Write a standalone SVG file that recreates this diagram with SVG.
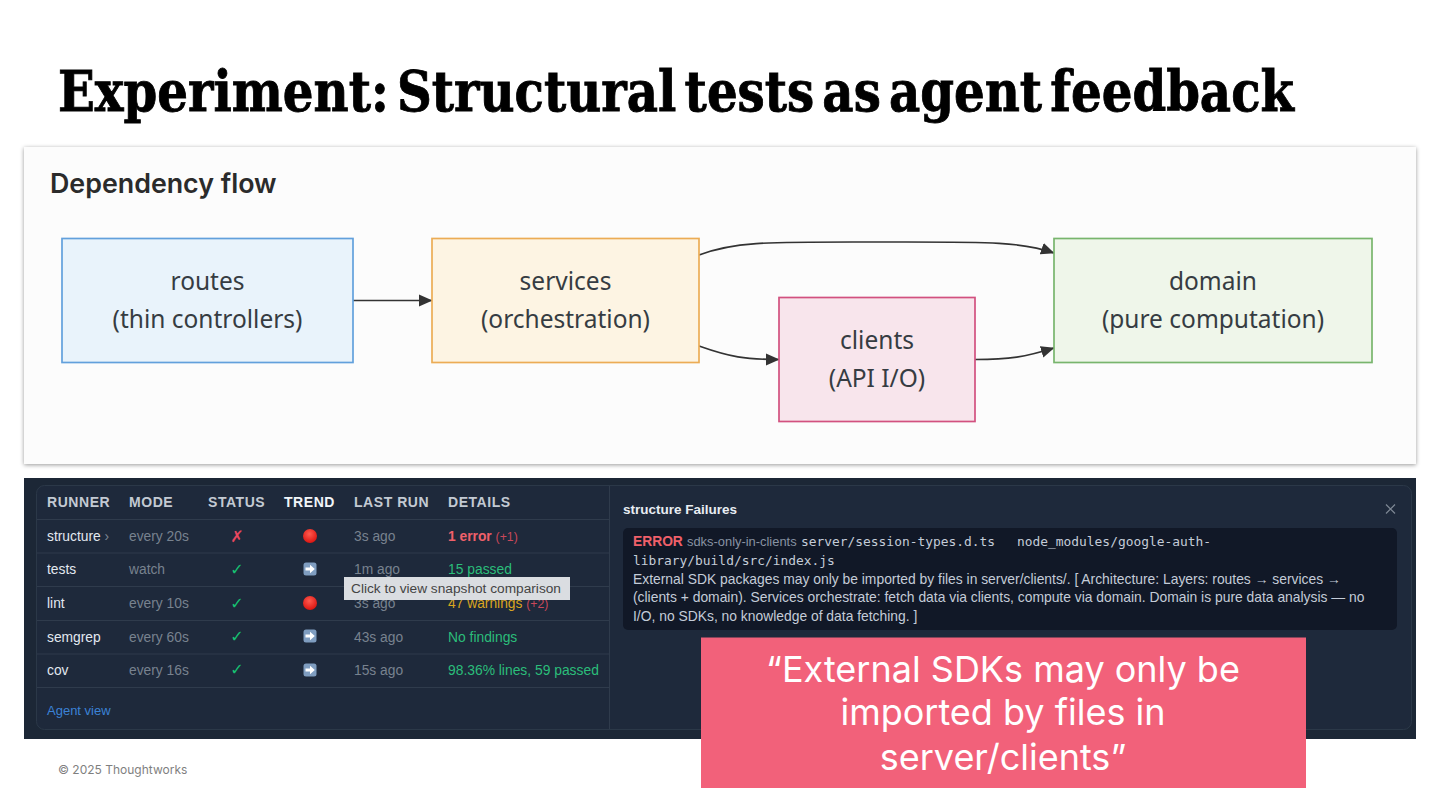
<svg xmlns="http://www.w3.org/2000/svg" width="1440" height="810" viewBox="0 0 1440 810">
<style>
text{font-family:"Liberation Sans",Arial,sans-serif}
.n{fill:#363c42;font-family:"Noto Sans",sans-serif;font-size:24.5px;text-anchor:middle}
.box{stroke-width:1.700}
.edge{fill:none;stroke:#333;stroke-width:1.700;marker-end:url(#arr)}
.h{font-size:14px;font-weight:700;fill:#c3cad3;letter-spacing:.55px}
.r{font-size:13.8px;fill:#e2e8f0}
.m{font-size:13.8px;fill:#78828f}
.g{font-size:13.85px;fill:#2bbd7a}
.row{stroke:#2f3b4c;stroke-width:1}
.ck{font-size:16px;font-weight:700;fill:#16c172;text-anchor:middle;font-family:"DejaVu Sans",sans-serif}
.err{font-size:13.87px;fill:#c4ccd8}
.mono{font-size:12.9px;fill:#c4ccd8;font-family:"DejaVu Sans Mono",monospace}
.q{font-family:Inter,sans-serif;font-size:36px;fill:#fff;text-anchor:middle}
</style>
<defs>
<marker id="arr" viewBox="0 0 14 14" refX="13" refY="7" markerWidth="14" markerHeight="14" markerUnits="userSpaceOnUse" orient="auto"><path d="M0 1L13.500 7L0 13z" fill="#333"/></marker>
<filter id="sh" x="-2%" y="-3%" width="104%" height="106%"><feDropShadow dx="0" dy="1" stdDeviation="2" flood-color="#000" flood-opacity=".4"/></filter>
<g id="tr"><rect x="-6.500" y="-6.500" width="13" height="13" rx="2.500" fill="#7f9dc0"/><path d="M-4.500 -1.500h4.500v-2.800l4.800 4.300-4.800 4.300v-2.800h-4.500z" fill="#fff"/></g>
<radialGradient id="red" cx=".45" cy=".35" r=".7"><stop offset="0" stop-color="#ff5a4f"/><stop offset="1" stop-color="#d8100c"/></radialGradient>
</defs>
<rect width="1440" height="810" fill="#fff"/>
<text x="58" y="111" font-size="56" font-weight="700" fill="#000" stroke="#000" stroke-width=".8" word-spacing="-9" textLength="1236" lengthAdjust="spacingAndGlyphs" style="font-family:'DejaVu Serif Condensed','DejaVu Serif',serif">Experiment: Structural tests as agent feedback</text>

<g id="flow-panel">
<rect x="24" y="147" width="1392" height="317" fill="#fcfcfc" filter="url(#sh)"/>
<text x="50" y="193" font-size="26.800" font-weight="600" fill="#2b2b2b" style="font-family:Inter,sans-serif">Dependency flow</text>
</g>
<g id="connectors">
<path class="edge" d="M699 255C735 241 770 242 877 242C985 242 1020 241 1054 253"/>
<path class="edge" d="M353 300.500H432"/>
<path class="edge" d="M699 346C730 357 745 359.500 779 359.500"/>
<path class="edge" d="M975 359.500C1010 359.500 1025 357 1054 348"/>
</g>
<g id="routes"><rect class="box" x="62" y="238.500" width="291" height="124" fill="#e9f3fb" stroke="#62a0dc"/><text class="n" x="207.500" y="290">routes</text><text class="n" x="207.500" y="328">(thin controllers)</text></g>
<g id="services"><rect class="box" x="432" y="238.500" width="267" height="124" fill="#fdf4e3" stroke="#ecac55"/><text class="n" x="565.500" y="290">services</text><text class="n" x="565.500" y="328">(orchestration)</text></g>
<g id="clients"><rect class="box" x="779" y="297.500" width="196" height="124" fill="#f8e5ec" stroke="#d2517f"/><text class="n" x="877" y="349">clients</text><text class="n" x="877" y="387">(API I/O)</text></g>
<g id="domain"><rect class="box" x="1054" y="238.500" width="318" height="124" fill="#eff6ea" stroke="#78b56d"/><text class="n" x="1213" y="290">domain</text><text class="n" x="1213" y="328">(pure computation)</text></g>

<g id="dashboard">
<rect x="24" y="478" width="1392" height="261" fill="#1c2736"/>
<rect x="36.500" y="485.500" width="1375" height="244" rx="8" fill="#1e293b" stroke="#2b3848"/>
<path class="row" d="M609.500 486V729M37 519.500H609M37 553H609M37 586.500H609M37 620.500H609M37 654H609M37 687.500H609"/>
<text class="h" x="47" y="507">RUNNER</text><text class="h" x="129" y="507">MODE</text><text class="h" x="208" y="507">STATUS</text><text class="h" x="284" y="507" style="fill:#f1f5f9">TREND</text><text class="h" x="354" y="507">LAST RUN</text><text class="h" x="448" y="507">DETAILS</text>

<text class="r" x="47" y="541">structure <tspan fill="#7d8794">›</tspan></text><text class="m" x="129" y="541">every 20s</text><text class="ck" x="237" y="542" style="fill:#e8475f">✗</text><circle cx="310" cy="536" r="7" fill="url(#red)"/><text class="m" x="354" y="541">3s ago</text><text x="448" y="541" font-size="13.800" font-weight="700" fill="#f0606a">1 error <tspan font-weight="400" font-size="12.300" fill="#c9485a">(+1)</tspan></text>
<text class="r" x="47" y="574">tests</text><text class="m" x="129" y="574">watch</text><text class="ck" x="237" y="575">✓</text><use href="#tr" x="310" y="569"/><text class="m" x="354" y="574">1m ago</text><text class="g" x="448" y="574">15 passed</text>
<text class="r" x="47" y="608">lint</text><text class="m" x="129" y="608">every 10s</text><text class="ck" x="237" y="609">✓</text><circle cx="310" cy="603" r="7" fill="url(#red)"/><text class="m" x="354" y="608">3s ago</text><text x="448" y="608" font-size="13.800" fill="#d9a520">47 warnings <tspan font-size="12.300" fill="#c9485a">(+2)</tspan></text>
<text class="r" x="47" y="642">semgrep</text><text class="m" x="129" y="642">every 60s</text><text class="ck" x="237" y="642">✓</text><use href="#tr" x="310" y="636"/><text class="m" x="354" y="642">43s ago</text><text class="g" x="448" y="642">No findings</text>
<text class="r" x="47" y="675">cov</text><text class="m" x="129" y="675">every 16s</text><text class="ck" x="237" y="675">✓</text><use href="#tr" x="310" y="670"/><text class="m" x="354" y="675">15s ago</text><text class="g" x="448" y="675">98.36% lines, 59 passed</text>
<text x="47" y="715" font-size="13" fill="#3b82d6">Agent view</text>
<rect x="344" y="577" width="226" height="23" fill="#dadde1"/><text x="351" y="593" font-size="13.700" fill="#444">Click to view snapshot comparison</text>

<text x="623" y="514" font-size="13.500" font-weight="700" fill="#e8edf3">structure Failures</text>
<path d="M1386 504.500l9 9m0-9l-9 9" stroke="#7d8794" stroke-width="1.200" fill="none"/>
<rect x="623" y="528" width="774" height="102" rx="5" fill="#111827"/>
<text x="633" y="546" font-size="13.800" font-weight="700" fill="#f0606a">ERROR</text>
<text x="687" y="546" font-size="12.900" fill="#8792a2">sdks-only-in-clients</text>
<text class="mono" x="801" y="546">server/session-types.d.ts</text>
<text class="mono" x="1017" y="546">node_modules/google-auth-</text>
<text class="mono" x="633" y="565">library/build/src/index.js</text>
<text class="err" x="633" y="584">External SDK packages may only be imported by files in server/clients/. [ Architecture: Layers: routes → services →</text>
<text class="err" x="633" y="602">(clients + domain). Services orchestrate: fetch data via clients, compute via domain. Domain is pure data analysis — no</text>
<text class="err" x="633" y="621">I/O, no SDKs, no knowledge of data fetching. ]</text>
</g>

<text x="58" y="774" font-size="12" fill="#7f7f7f" style="font-family:Inter,sans-serif">© 2025 Thoughtworks</text>
<g id="callout">
<rect x="701" y="637.500" width="605" height="150.500" fill="#f2617a"/>
<text class="q" x="1003" y="682">“External SDKs may only be</text><text class="q" x="1003" y="725">imported by files in</text><text class="q" x="1003" y="770">server/clients”</text>
</g>
</svg>
